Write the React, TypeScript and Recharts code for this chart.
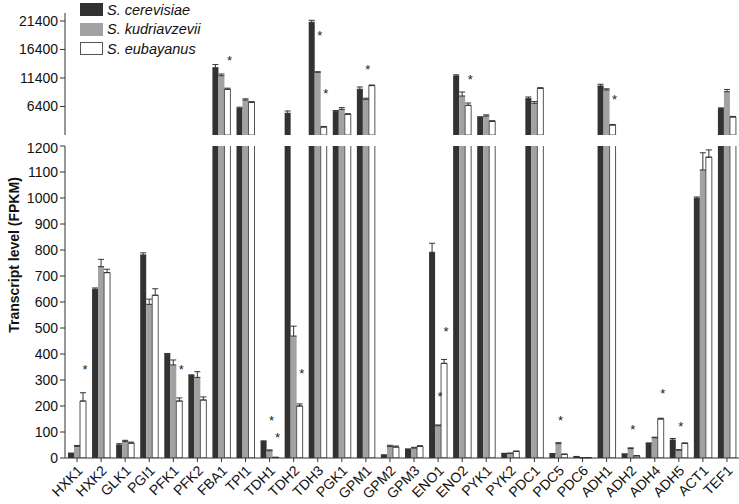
import React from 'react';
import {
  ComposedChart,
  Bar,
  ErrorBar,
  Scatter,
  XAxis,
  YAxis,
  Legend,
} from 'recharts';

// genes on the x axis
const genes = [
  'HXK1', 'HXK2', 'GLK1', 'PGI1', 'PFK1', 'PFK2', 'FBA1', 'TPI1', 'TDH1', 'TDH2',
  'TDH3', 'PGK1', 'GPM1', 'GPM2', 'GPM3', 'ENO1', 'ENO2', 'PYK1', 'PYK2', 'PDC1',
  'PDC5', 'PDC6', 'ADH1', 'ADH2', 'ADH4', 'ADH5', 'ACT1', 'TEF1',
];

// FPKM per species
const cerevisiae = [17, 649, 50, 781, 399, 317, 13200, 6080, 63, 5210, 21170, 5490, 9420, 11, 33, 791, 11750, 4500, 17, 7770, 15, 5, 10000, 14, 56, 69, 999, 6010];
const kudriavzevii = [45, 736, 63, 591, 358, 310, 11800, 7540, 28, 469, 12400, 5900, 7660, 44, 38, 124, 8240, 4730, 18, 6960, 55, 1, 9300, 36, 78, 30, 1108, 8990];
const eubayanus = [219, 713, 57, 626, 219, 223, 9415, 7135, 2, 200, 2800, 5030, 10070, 42, 45, 364, 6610, 3800, 25, 9590, 14, 1, 3150, 8, 150, 56, 1157, 4560];

// upper error (SD)
const cerevisiaeErr = [2, 5, 5, 8, 3, 3, 550, 200, 3, 400, 350, 200, 400, 1, 2, 35, 200, 100, 1, 300, 2, 1, 300, 2, 2, 6, 5, 150];
const kudriavzeviiErr = [3, 28, 5, 20, 19, 22, 300, 200, 3, 38, 100, 300, 200, 5, 3, 3, 700, 200, 1, 300, 4, 0, 200, 3, 2, 2, 66, 400];
const eubayanusErr = [32, 13, 4, 25, 12, 12, 200, 100, 1, 8, 100, 100, 100, 4, 2, 15, 400, 100, 2, 100, 1, 0, 100, 1, 3, 2, 28, 100];

// significance asterisks (height in FPKM), null = none
const starKud = [null, null, null, null, null, null, null, null, 155, null, 19240, null, 13380, null, null, 245, null, null, null, null, 155, null, null, 118, null, 130, null, null];
const starEub = [351, null, null, null, 351, null, 14850, null, 88, 336, 9170, null, null, null, null, 495, 11630, null, null, null, null, null, 8120, null, 259, null, null, null];

const species = [
  { name: 'S. cerevisiae', fill: '#323232', stroke: '#323232' },
  { name: 'S. kudriavzevii', fill: '#a2a2a2', stroke: '#a2a2a2' },
  { name: 'S. eubayanus', fill: '#ffffff', stroke: '#555555' },
];

const BREAK_LOW = 1200;
const BREAK_HIGH = 1400;
const FONT = '"Liberation Sans", Arial, sans-serif';

const upper = (v: number | null) => (v != null && v > BREAK_LOW ? v : null);

const topData = genes.map((g, i) => ({
  gene: g,
  cer: upper(cerevisiae[i]),
  kud: upper(kudriavzevii[i]),
  eub: upper(eubayanus[i]),
  cerErr: cerevisiae[i] > BREAK_LOW ? [0, cerevisiaeErr[i]] : null,
  kudErr: kudriavzevii[i] > BREAK_LOW ? [0, kudriavzeviiErr[i]] : null,
  eubErr: eubayanus[i] > BREAK_LOW ? [0, eubayanusErr[i]] : null,
  sKud: upper(starKud[i]),
  sEub: upper(starEub[i]),
}));

const bottomData = genes.map((g, i) => ({
  gene: g,
  cer: cerevisiae[i],
  kud: kudriavzevii[i],
  eub: eubayanus[i],
  cerErr: cerevisiae[i] <= BREAK_LOW ? [0, cerevisiaeErr[i]] : null,
  kudErr: kudriavzevii[i] <= BREAK_LOW ? [0, kudriavzeviiErr[i]] : null,
  eubErr: eubayanus[i] <= BREAK_LOW ? [0, eubayanusErr[i]] : null,
  sKud: starKud[i] != null && starKud[i]! <= BREAK_LOW ? starKud[i] : null,
  sEub: starEub[i] != null && starEub[i]! <= BREAK_LOW ? starEub[i] : null,
}));

const topTicks = [1400, 6400, 11400, 16400, 21400];
const bottomTicks = [0, 100, 200, 300, 400, 500, 600, 700, 800, 900, 1000, 1100, 1200];

const tickStyle = { fontSize: 14, fill: '#111', fontFamily: FONT };

const starShape = (key: string, dx: number) => (p: any) => {
  if (!p || !p.payload || p.payload[key] == null || !isFinite(p.cx) || !isFinite(p.cy)) return <g />;
  return (
    <text x={p.cx + dx + 2} y={p.cy + 7} textAnchor="middle" fontSize={13} fill="#222" fontFamily={FONT}>
      *
    </text>
  );
};

// gene labels, slanted 45deg and ending at the tick
const geneTick = (props: any) => {
  const { x, y, payload } = props;
  const ax = x + 3;
  const ay = y + 4;
  return (
    <text
      x={ax}
      y={ay}
      dy={5}
      transform={`rotate(-45, ${ax}, ${ay})`}
      textAnchor="end"
      fontSize={14}
      fill="#111"
      fontFamily={FONT}
    >
      {payload.value}
    </text>
  );
};

export default function App() {
  const series = [
    <Bar key="cer" dataKey="cer" name={species[0].name} fill={species[0].fill} barSize={6} isAnimationActive={false}>
      <ErrorBar dataKey="cerErr" width={3} stroke="#333" strokeWidth={1} direction="y" />
    </Bar>,
    <Bar key="kud" dataKey="kud" name={species[1].name} fill={species[1].fill} barSize={6} isAnimationActive={false}>
      <ErrorBar dataKey="kudErr" width={3} stroke="#333" strokeWidth={1} direction="y" />
    </Bar>,
    <Bar key="eub" dataKey="eub" name={species[2].name} fill={species[2].fill} stroke={species[2].stroke} strokeWidth={1} barSize={6} isAnimationActive={false}>
      <ErrorBar dataKey="eubErr" width={3} stroke="#333" strokeWidth={1} direction="y" />
    </Bar>,
    <Scatter key="sKud" dataKey="sKud" shape={starShape('sKud', 0)} legendType="none" isAnimationActive={false} />,
    <Scatter key="sEub" dataKey="sEub" shape={starShape('sEub', 6)} legendType="none" isAnimationActive={false} />,
  ];

  return (
    <div style={{ position: 'absolute', left: 0, top: 0, width: 739, height: 504, background: '#fff' }}>
      <div style={{ position: 'absolute', left: 0, top: 0 }}>
        <ComposedChart
          width={739}
          height={136}
          data={topData}
          margin={{ top: 13, right: 0, bottom: 1, left: 0 }}
          barGap={0}
        >
          <XAxis dataKey="gene" hide />
          <YAxis
            width={65}
            domain={[BREAK_HIGH, 22800]}
            ticks={topTicks}
            allowDataOverflow
            tickSize={5}
            tick={tickStyle}
            stroke="#333"
          />
          <Legend
            layout="vertical"
            align="center"
            verticalAlign="middle"
            wrapperStyle={{ left: 80, top: 0, width: 'auto' }}
            content={() => (
              <div style={{ fontFamily: FONT }}>
                {species.map((s) => (
                  <div key={s.name} style={{ display: 'flex', alignItems: 'center', height: 19.5 }}>
                    <span
                      style={{
                        display: 'inline-block',
                        width: 21,
                        height: 11,
                        background: s.fill,
                        border: `1px solid ${s.stroke}`,
                        marginRight: 4,
                      }}
                    />
                    <span style={{ fontSize: 14.5, fontStyle: 'italic', color: '#111' }}>{s.name}</span>
                  </div>
                ))}
              </div>
            )}
          />
          {series}
        </ComposedChart>
      </div>
      <div style={{ position: 'absolute', left: 0, top: 140 }}>
        <ComposedChart
          width={739}
          height={364}
          data={bottomData}
          margin={{ top: 6, right: 0, bottom: 0, left: 0 }}
          barGap={0}
        >
          <XAxis
            dataKey="gene"
            height={46}
            interval={0}
            tickSize={4}
            tick={geneTick}
            stroke="#333"
          />
          <YAxis
            width={65}
            domain={[0, BREAK_LOW]}
            ticks={bottomTicks}
            allowDataOverflow
            tickSize={5}
            tick={tickStyle}
            stroke="#333"
            label={{
              content: ({ viewBox }: any) => (
                <text
                  x={14}
                  y={viewBox.y + viewBox.height / 2 - 47}
                  transform={`rotate(-90, 14, ${viewBox.y + viewBox.height / 2 - 47})`}
                  textAnchor="middle"
                  dominantBaseline="central"
                  fontSize={14}
                  fontWeight="bold"
                  fill="#111"
                  fontFamily={FONT}
                >
                  Transcript level (FPKM)
                </text>
              ),
            }}
          />
          {series}
        </ComposedChart>
      </div>
    </div>
  );
}
